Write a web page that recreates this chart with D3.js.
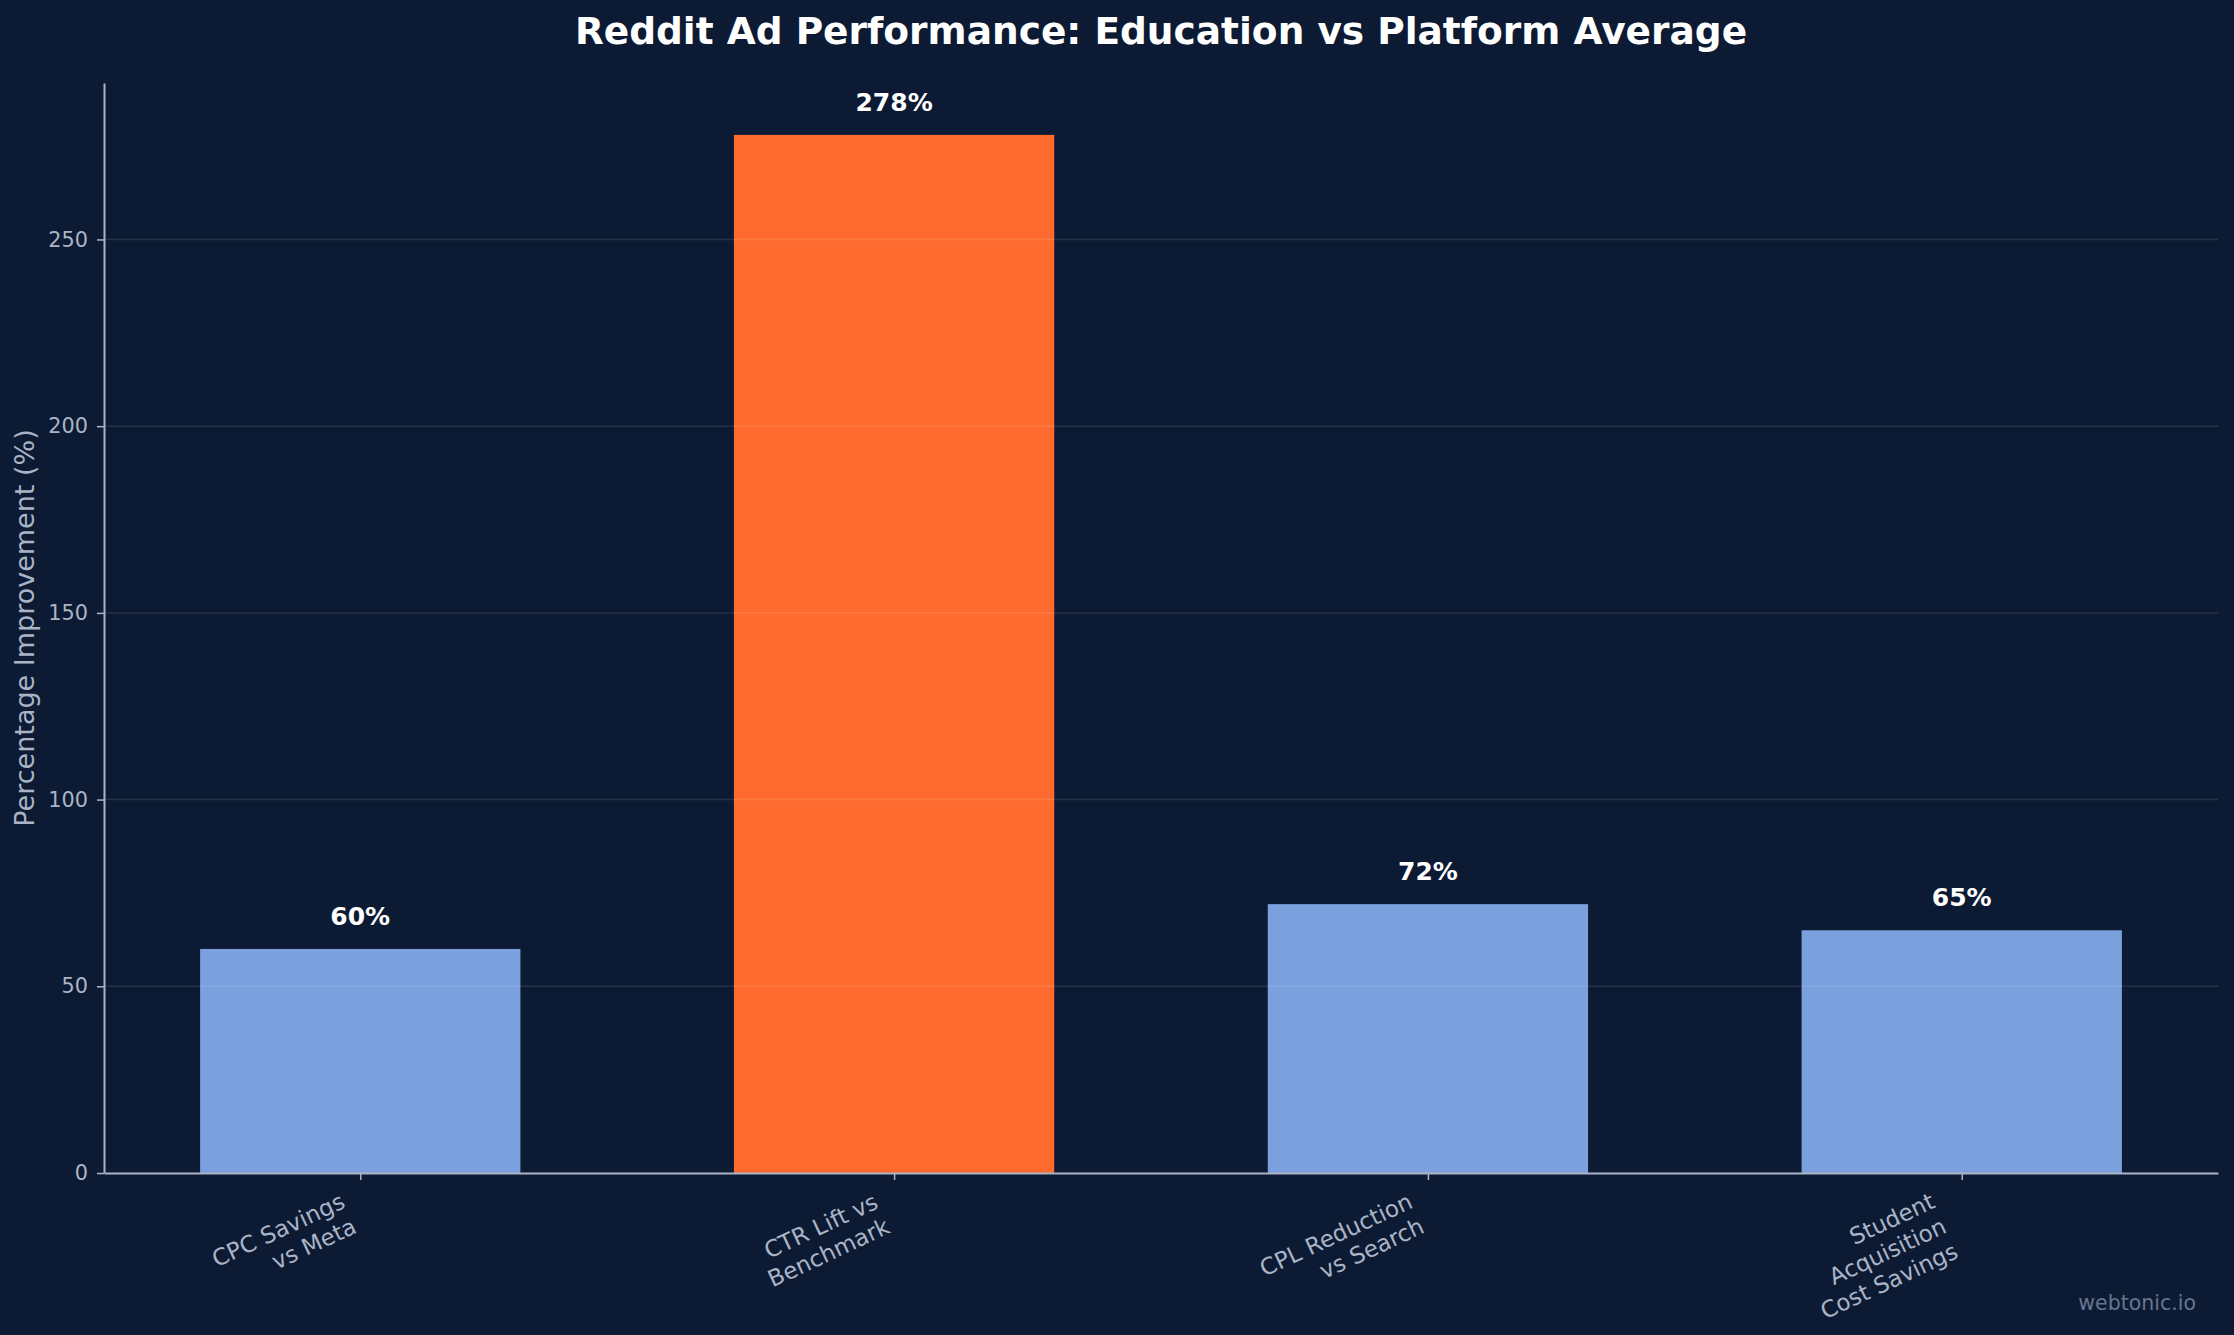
<!DOCTYPE html>
<html>
<head>
<meta charset="utf-8">
<script src="https://cdn.jsdelivr.net/npm/d3@7"></script>
<style>
  html, body { margin: 0; padding: 0; background: #0c1b33; }
  svg text { font-family: "DejaVu Sans", sans-serif; }
</style>
</head>
<body>
<div class="bar-chart-container"></div>
<script>
// Data
const categories = [
  ['CPC Savings', 'vs Meta'],
  ['CTR Lift vs', 'Benchmark'],
  ['CPL Reduction', 'vs Search'],
  ['Student', 'Acquisition', 'Cost Savings']
];
const values = [60, 278, 72, 65];
const highlight = [false, true, false, false];
const yTicks = [0, 50, 100, 150, 200, 250];

const svg_width = 2234;
const svg_height = 1335;
const margin = {top: 83, right: 16, bottom: 162, left: 104};
const chart_width = svg_width - margin.left - margin.right;
const chart_height = svg_height - margin.top - margin.bottom;

const svg = d3.select('.bar-chart-container').append('svg')
  .attr('width', svg_width).attr('height', svg_height)
  .style('display', 'block');

svg.append('rect').attr('width', svg_width).attr('height', svg_height).attr('fill', '#0c1b33');

const g = svg.append('g').attr('transform', `translate(${margin.left},${margin.top})`);

// x: matplotlib-like linear positions with 0.6 wide bars and 5% margins
const idx = values.map((d, i) => i);
const xScale = d3.scaleLinear().domain([-0.48, values.length - 1 + 0.48]).range([0, chart_width]);
const yScale = d3.scaleLinear().domain([0, d3.max(values) * 1.05]).range([chart_height, 0]);
const barW = xScale(0.6) - xScale(0);

// bars
g.selectAll('.bar').data(idx).enter().append('rect')
  .attr('class', 'bar')
  .attr('x', i => xScale(i) - barW / 2)
  .attr('y', i => yScale(values[i]))
  .attr('width', barW)
  .attr('height', i => chart_height - yScale(values[i]))
  .attr('fill', i => highlight[i] ? '#ff6b2e' : '#7aa1dd');

// grid
g.append('g').selectAll('line').data(yTicks.filter(d => d > 0)).enter().append('line')
  .attr('x1', 0).attr('x2', chart_width)
  .attr('y1', d => yScale(d)).attr('y2', d => yScale(d))
  .attr('stroke', 'rgba(255,255,255,0.1)').attr('stroke-width', 1.5);

// value labels
g.selectAll('.val').data(idx).enter().append('text')
  .attr('class', 'val')
  .attr('x', i => xScale(i))
  .attr('y', i => yScale(values[i]) - 24)
  .attr('text-anchor', 'middle')
  .style('font-size', '25px').style('font-weight', 'bold').style('fill', '#ffffff')
  .text(i => values[i] + '%');

// y axis
const yAxis = d3.axisLeft(yScale).tickValues(yTicks).tickSize(7).tickPadding(9).tickSizeOuter(0);
const yAxisDraw = g.append('g').attr('class', 'y axis').call(yAxis);
yAxisDraw.select('.domain').attr('stroke', '#aab4c6').attr('stroke-width', 2);
yAxisDraw.selectAll('.tick line').attr('stroke', '#aab4c6').attr('stroke-width', 1.5);
yAxisDraw.selectAll('.tick text').style('font-size', '20.8px').style('fill', '#aab4c6');

// x axis (ticks only, labels placed manually rotated)
const xAxis = d3.axisBottom(xScale).tickValues(idx).tickSize(7).tickSizeOuter(0).tickFormat('');
const xAxisDraw = g.append('g').attr('class', 'x axis')
  .attr('transform', `translate(0,${chart_height})`).call(xAxis);
xAxisDraw.select('.domain').attr('stroke', '#aab4c6').attr('stroke-width', 2);
xAxisDraw.selectAll('.tick line').attr('stroke', '#aab4c6').attr('stroke-width', 1.5);

// rotated multi-line category labels, right-aligned, bbox right/top anchored at tick
const deg = -25;
const a = deg * Math.PI / 180;
const lineH = 27.5;
idx.forEach(i => {
  const lines = categories[i];
  const lbl = g.append('g');
  const t = lbl.append('text')
    .attr('text-anchor', 'end')
    .style('font-size', '23px').style('fill', '#aab4c6');
  lines.forEach((s, k) => {
    t.append('tspan').attr('x', 0).attr('y', k * lineH).text(s);
  });
  const bb = t.node().getBBox();
  const corners = [[bb.x, bb.y], [bb.x + bb.width, bb.y], [bb.x, bb.y + bb.height], [bb.x + bb.width, bb.y + bb.height]]
    .map(([x, y]) => [x * Math.cos(a) - y * Math.sin(a), x * Math.sin(a) + y * Math.cos(a)]);
  const maxX = d3.max(corners, c => c[0]);
  const minY = d3.min(corners, c => c[1]);
  const tx = xScale(i) - maxX;
  const ty = chart_height + 15 - minY;
  lbl.attr('transform', `translate(${tx},${ty}) rotate(${deg})`);
});

// y label
svg.append('text')
  .attr('transform', `translate(34,${margin.top + chart_height / 2}) rotate(-90)`)
  .attr('text-anchor', 'middle')
  .style('font-size', '27px').style('fill', '#aab4c6')
  .text('Percentage Improvement (%)');

// title
svg.append('text')
  .attr('x', margin.left + chart_width / 2).attr('y', 44)
  .attr('text-anchor', 'middle')
  .style('font-size', '37.5px').style('font-weight', 'bold').style('fill', '#ffffff')
  .text('Reddit Ad Performance: Education vs Platform Average');

// watermark
svg.append('text')
  .attr('x', 2196).attr('y', 1310)
  .attr('text-anchor', 'end')
  .style('font-size', '20.5px').style('fill', '#66758f')
  .text('webtonic.io');
</script>
</body>
</html>
